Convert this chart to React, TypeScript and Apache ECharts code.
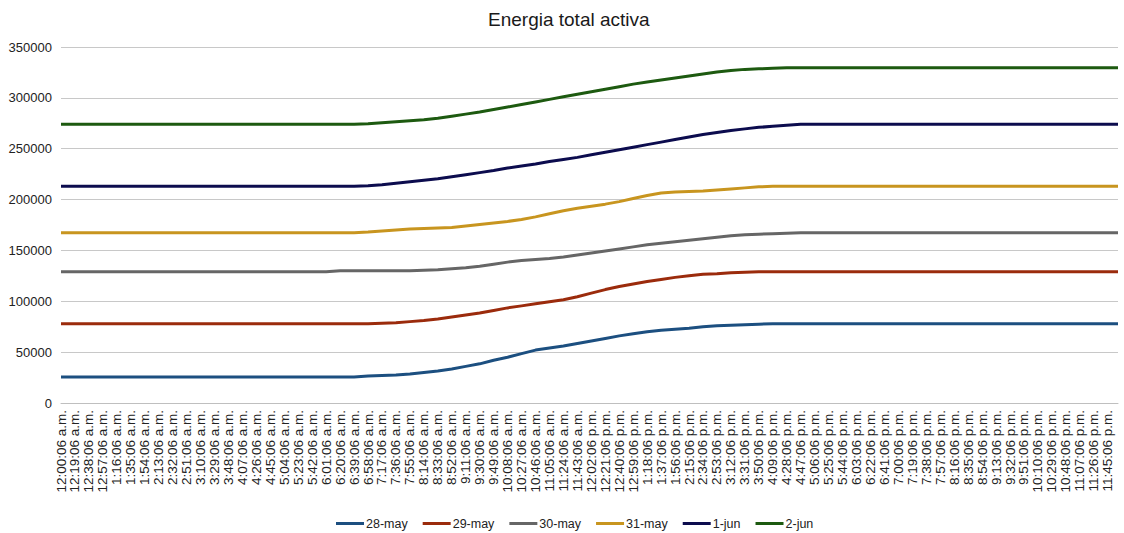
import React, { useEffect, useRef } from "react";
import * as echarts from "echarts";

const timeLabels = [
  "12:00:06 a.m.", "12:19:06 a.m.", "12:38:06 a.m.", "12:57:06 a.m.", "1:16:06 a.m.", "1:35:06 a.m.",
  "1:54:06 a.m.", "2:13:06 a.m.", "2:32:06 a.m.", "2:51:06 a.m.", "3:10:06 a.m.", "3:29:06 a.m.",
  "3:48:06 a.m.", "4:07:06 a.m.", "4:26:06 a.m.", "4:45:06 a.m.", "5:04:06 a.m.", "5:23:06 a.m.",
  "5:42:06 a.m.", "6:01:06 a.m.", "6:20:06 a.m.", "6:39:06 a.m.", "6:58:06 a.m.", "7:17:06 a.m.",
  "7:36:06 a.m.", "7:55:06 a.m.", "8:14:06 a.m.", "8:33:06 a.m.", "8:52:06 a.m.", "9:11:06 a.m.",
  "9:30:06 a.m.", "9:49:06 a.m.", "10:08:06 a.m.", "10:27:06 a.m.", "10:46:06 a.m.", "11:05:06 a.m.",
  "11:24:06 a.m.", "11:43:06 a.m.", "12:02:06 p.m.", "12:21:06 p.m.", "12:40:06 p.m.", "12:59:06 p.m.",
  "1:18:06 p.m.", "1:37:06 p.m.", "1:56:06 p.m.", "2:15:06 p.m.", "2:34:06 p.m.", "2:53:06 p.m.",
  "3:12:06 p.m.", "3:31:06 p.m.", "3:50:06 p.m.", "4:09:06 p.m.", "4:28:06 p.m.", "4:47:06 p.m.",
  "5:06:06 p.m.", "5:25:06 p.m.", "5:44:06 p.m.", "6:03:06 p.m.", "6:22:06 p.m.", "6:41:06 p.m.",
  "7:00:06 p.m.", "7:19:06 p.m.", "7:38:06 p.m.", "7:57:06 p.m.", "8:16:06 p.m.", "8:35:06 p.m.",
  "8:54:06 p.m.", "9:13:06 p.m.", "9:32:06 p.m.", "9:51:06 p.m.", "10:10:06 p.m.", "10:29:06 p.m.",
  "10:48:06 p.m.", "11:07:06 p.m.", "11:26:06 p.m.", "11:45:06 p.m.",
];

// minutes between labelled samples, and the day's last minute (11:59:06 p.m.)
const LABEL_STEP_MIN = 19;
const LAST_MINUTE = 1439;

const seriesNames = ["28-may", "29-may", "30-may", "31-may", "1-jun", "2-jun"];
const seriesColors = ["#1c4f80", "#9b2b0c", "#666666", "#c8951f", "#0c0c4e", "#1d5a10"];

// 77 samples: one per label + final sample at 11:59:06 p.m.
const may28 = [
  25500, 25500, 25500, 25500, 25500, 25500, 25500, 25500, 25500, 25500, 25500,
  25500, 25500, 25500, 25500, 25500, 25500, 25500, 25500, 25500, 25500, 25500,
  26500, 27000, 27500, 28500, 30000, 31500, 33500, 36000, 38500, 42000, 45000,
  48500, 52000, 54000, 56000, 58500, 61000, 63500, 66000, 68000, 70000, 71500,
  72500, 73500, 75000, 76000, 76500, 77000, 77500,
  78000, 78000, 78000, 78000, 78000, 78000, 78000, 78000, 78000, 78000, 78000, 78000, 78000,
  78000, 78000, 78000, 78000, 78000, 78000, 78000, 78000, 78000, 78000, 78000, 78000, 78000,
];
const may29 = [
  78000, 78000, 78000, 78000, 78000, 78000, 78000, 78000, 78000, 78000, 78000, 78000,
  78000, 78000, 78000, 78000, 78000, 78000, 78000, 78000, 78000, 78000, 78000,
  78500, 79000, 80000, 81000, 82500, 84500, 86500, 88500, 91000, 93500, 95500,
  97500, 99500, 101500, 104500, 108000, 111500, 114500, 117000, 119500, 121500,
  123500, 125000, 126500, 127000, 128000, 128500,
  129000, 129000, 129000, 129000, 129000, 129000, 129000, 129000, 129000, 129000, 129000, 129000, 129000, 129000,
  129000, 129000, 129000, 129000, 129000, 129000, 129000, 129000, 129000, 129000, 129000, 129000, 129000,
];
const may30 = [
  129000, 129000, 129000, 129000, 129000, 129000, 129000, 129000, 129000, 129000,
  129000, 129000, 129000, 129000, 129000, 129000, 129000, 129000, 129000, 129000,
  130000, 130000, 130000, 130000, 130000, 130000,
  130500, 131000, 132000, 133000, 134500, 136500, 138500, 140000, 141000, 142000,
  143500, 145500, 147500, 149500, 151500, 153500, 155500, 157000, 158500, 160000,
  161500, 163000, 164500, 165500, 166000, 166500, 167000,
  167500, 167500, 167500, 167500, 167500, 167500, 167500, 167500, 167500, 167500, 167500, 167500,
  167500, 167500, 167500, 167500, 167500, 167500, 167500, 167500, 167500, 167500, 167500, 167500,
];
const may31 = [
  167500, 167500, 167500, 167500, 167500, 167500, 167500, 167500, 167500, 167500, 167500,
  167500, 167500, 167500, 167500, 167500, 167500, 167500, 167500, 167500, 167500, 167500,
  168000, 169000, 170000, 171000, 171500, 172000, 172500, 174000, 175500, 177000,
  178500, 180500, 183000, 186000, 189000, 191500, 193500, 195500, 198000, 201000,
  204000, 206500, 207500, 208000, 208500, 209500, 210500, 211500, 212500,
  213000, 213000, 213000, 213000, 213000, 213000, 213000, 213000, 213000, 213000, 213000, 213000, 213000,
  213000, 213000, 213000, 213000, 213000, 213000, 213000, 213000, 213000, 213000, 213000, 213000, 213000,
];
const jun1 = [
  213000, 213000, 213000, 213000, 213000, 213000, 213000, 213000, 213000, 213000, 213000,
  213000, 213000, 213000, 213000, 213000, 213000, 213000, 213000, 213000, 213000, 213000,
  213500, 214500, 216000, 217500, 219000, 220500, 222500, 224500, 226500, 228500,
  231000, 233000, 235000, 237500, 239500, 241500, 244000, 246500, 249000, 251500,
  254000, 256500, 259000, 261500, 264000, 266000, 268000, 269500, 271000, 272000, 273000,
  274000, 274000, 274000, 274000, 274000, 274000, 274000, 274000, 274000, 274000, 274000, 274000,
  274000, 274000, 274000, 274000, 274000, 274000, 274000, 274000, 274000, 274000, 274000, 274000,
];
const jun2 = [
  274000, 274000, 274000, 274000, 274000, 274000, 274000, 274000, 274000, 274000, 274000,
  274000, 274000, 274000, 274000, 274000, 274000, 274000, 274000, 274000, 274000, 274000,
  274500, 275500, 276500, 277500, 278500, 280000, 282000, 284000, 286000, 288500,
  291000, 293500, 296000, 298500, 301000, 303500, 306000, 308500, 311000, 313500,
  315500, 317500, 319500, 321500, 323500, 325500, 327000, 328000, 328500, 329000,
  329500, 329500, 329500, 329500, 329500, 329500, 329500, 329500, 329500, 329500, 329500, 329500, 329500,
  329500, 329500, 329500, 329500, 329500, 329500, 329500, 329500, 329500, 329500, 329500, 329500,
];

const seriesValues = [may28, may29, may30, may31, jun1, jun2];

const FONT = "'Liberation Sans', Arial, sans-serif";

function sampleMinute(i: number): number {
  return i < timeLabels.length ? i * LABEL_STEP_MIN : LAST_MINUTE;
}

export default function App() {
  const ref = useRef<HTMLDivElement>(null);

  useEffect(() => {
    if (!ref.current) return;
    const chart = echarts.init(ref.current, null, { renderer: "svg" });
    chart.setOption({
      animation: false,
      backgroundColor: "#ffffff",
      textStyle: { fontFamily: FONT },
      title: {
        text: "Energia total activa",
        left: 483,
        top: 5,
        textStyle: { fontFamily: FONT, fontSize: 19, fontWeight: "normal", color: "#1a1a1a" },
      },
      legend: {
        data: seriesNames,
        left: 331,
        top: 512,
        icon: "rect",
        itemWidth: 28,
        itemHeight: 3,
        itemGap: 15,
        textStyle: { fontFamily: FONT, fontSize: 12.5, color: "#222222", padding: [0, 0, 0, -3] },
      },
      grid: { left: 61, right: 6, top: 47, bottom: 130, containLabel: false },
      xAxis: {
        type: "value",
        min: 0,
        max: LAST_MINUTE,
        interval: LABEL_STEP_MIN,
        axisLine: { show: true, lineStyle: { color: "#bfbfbf", width: 1 } },
        axisTick: { show: false },
        splitLine: { show: false },
        axisLabel: {
          rotate: 90,
          margin: 7,
          fontSize: 13.5,
          color: "#222222",
          fontFamily: FONT,
          showMaxLabel: false,
          formatter: (v: number) =>
            v % LABEL_STEP_MIN === 0 && timeLabels[v / LABEL_STEP_MIN] ? timeLabels[v / LABEL_STEP_MIN] : "",
        },
      },
      yAxis: {
        type: "value",
        min: 0,
        max: 350000,
        interval: 50000,
        axisLine: { show: false },
        axisTick: { show: false },
        splitLine: { lineStyle: { color: "#c8c8c8", width: 1 } },
        axisLabel: {
          fontSize: 13,
          color: "#222222",
          fontFamily: FONT,
          margin: 9,
          formatter: (v: number) => String(v),
        },
      },
      series: seriesNames.map((name, s) => ({
        name,
        type: "line",
        symbol: "none",
        showSymbol: false,
        smooth: false,
        color: seriesColors[s],
        lineStyle: { color: seriesColors[s], width: 3 },
        data: seriesValues[s].map((v, i) => [sampleMinute(i), v]),
      })),
    });
    return () => chart.dispose();
  }, []);

  return (
    <div
      ref={ref}
      style={{ position: "fixed", left: 0, top: 0, width: 1124, height: 533, background: "#ffffff" }}
    />
  );
}
